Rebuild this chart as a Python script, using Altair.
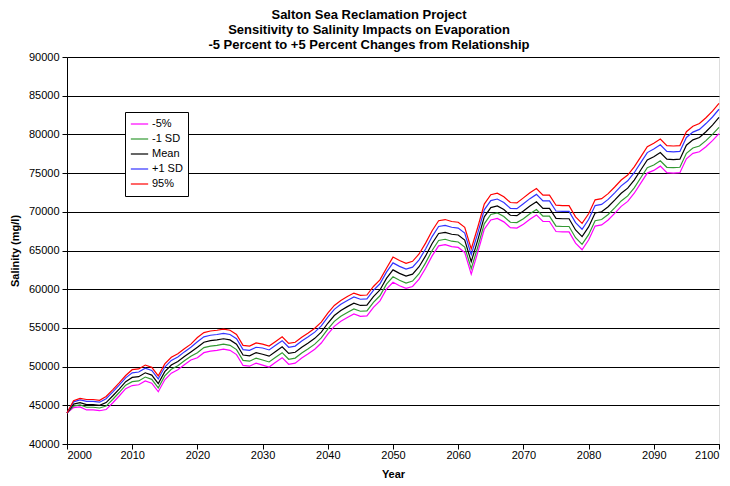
import altair as alt
import pandas as pd

years = list(range(2000, 2101))

mean = [44000, 45150, 45350, 45100, 45100, 45000, 45350, 46200, 47100, 48050,
        48600, 48700, 49200, 48900, 47800, 49350, 50200, 50650, 51300, 51900,
        52500, 53150, 53350, 53450, 53600, 53450, 52900, 51500, 51400, 51800,
        51600, 51350, 51950, 52550, 51700, 51850, 52500, 53050, 53650, 54450,
        55600, 56600, 57250, 57750, 58200, 57900, 57950, 59050, 59900, 61400,
        62500, 62050, 61700, 61950, 62900, 64300, 65900, 67200, 67350, 67100,
        67000, 66350, 63550, 66350, 69350, 70550, 70750, 70300, 69550, 69500,
        70100, 70750, 71300, 70450, 70450, 69150, 69100, 69100, 67650, 66800,
        68050, 69850, 70000, 70650, 71500, 72400, 73050, 74100, 75400, 76700,
        77100, 77650, 76800, 76750, 76800, 78600, 79300, 79600, 80350, 81200,
        82200]

p95 = [44000, 45600, 45900, 45750, 45750, 45650, 46150, 47000, 47900, 48850,
       49600, 49700, 50200, 49900, 48800, 50350, 51200, 51650, 52300, 52900,
       53750, 54400, 54600, 54700, 54850, 54700, 54150, 52750, 52650, 53050,
       52900, 52650, 53250, 53850, 53000, 53150, 53800, 54350, 54950, 55750,
       56900, 57900, 58550, 59050, 59500, 59200, 59250, 60350, 61200, 62700,
       64150, 63700, 63350, 63600, 64550, 65950, 67550, 68850, 69000, 68750,
       68650, 68000, 65200, 68000, 71000, 72200, 72400, 71950, 71200, 71150,
       71800, 72450, 73000, 72150, 72150, 70850, 70800, 70800, 69350, 68500,
       69750, 71550, 71700, 72350, 73200, 74100, 74750, 75800, 77100, 78400,
       78850, 79400, 78550, 78500, 78550, 80350, 81050, 81400, 82150, 83000,
       84000]

plus1sd = [44000, 45450, 45700, 45500, 45500, 45400, 45850, 46700, 47600, 48550,
           49200, 49300, 49800, 49500, 48400, 49950, 50800, 51250, 51900, 52500,
           53200, 53850, 54050, 54150, 54300, 54150, 53600, 52200, 52100, 52500,
           52400, 52150, 52750, 53350, 52500, 52650, 53300, 53850, 54450, 55250,
           56400, 57400, 58050, 58550, 59000, 58700, 58750, 59850, 60700, 62200,
           63400, 62950, 62600, 62850, 63800, 65200, 66800, 68100, 68250, 68000,
           67900, 67250, 64450, 67250, 70250, 71450, 71650, 71200, 70450, 70400,
           71050, 71700, 72250, 71400, 71400, 70100, 70050, 70050, 68600, 67750,
           69000, 70800, 70950, 71600, 72450, 73350, 74000, 75050, 76350, 77650,
           78100, 78650, 77800, 77750, 77800, 79600, 80300, 80650, 81400, 82250,
           83250]

minus1sd = [44000, 44900, 45050, 44750, 44750, 44650, 44900, 45750, 46650, 47600,
            48050, 48150, 48650, 48350, 47250, 48800, 49650, 50100, 50750, 51350,
            51800, 52450, 52650, 52750, 52900, 52750, 52200, 50800, 50700, 51100,
            50850, 50600, 51200, 51800, 50950, 51100, 51750, 52300, 52900, 53700,
            54850, 55850, 56500, 57000, 57450, 57150, 57200, 58300, 59150, 60650,
            61600, 61150, 60800, 61050, 62000, 63400, 65000, 66300, 66450, 66200,
            66100, 65450, 62650, 65450, 68450, 69650, 69850, 69400, 68650, 68600,
            69100, 69750, 70300, 69450, 69450, 68150, 68100, 68100, 66650, 65800,
            67050, 68850, 69000, 69650, 70500, 71400, 72050, 73100, 74400, 75700,
            76050, 76600, 75750, 75700, 75750, 77550, 78250, 78500, 79200, 80000,
            80900]

minus5 = [44000, 44700, 44800, 44400, 44400, 44300, 44450, 45300, 46200, 47150,
          47550, 47650, 48150, 47850, 46750, 48300, 49150, 49600, 50250, 50850,
          51150, 51800, 52000, 52100, 52250, 52100, 51550, 50150, 50050, 50450,
          50200, 49950, 50550, 51150, 50300, 50450, 51100, 51650, 52250, 53050,
          54200, 55200, 55850, 56350, 56800, 56500, 56550, 57650, 58500, 60000,
          60900, 60450, 60100, 60350, 61300, 62700, 64300, 65600, 65750, 65500,
          65400, 64750, 61950, 64750, 67750, 68950, 69150, 68700, 67950, 67900,
          68400, 69050, 69600, 68750, 68750, 67450, 67400, 67400, 65950, 65100,
          66350, 68150, 68300, 68950, 69800, 70700, 71350, 72400, 73700, 75000,
          75350, 75900, 75050, 75000, 75050, 76850, 77550, 77750, 78400, 79200,
          80100]

series_names = ["-5%", "-1 SD", "Mean", "+1 SD", "95%"]
series_colors = ["#FF00FF", "#339933", "#000000", "#3333FF", "#FF0000"]
x_ticks = list(range(2000, 2101, 10))
y_ticks = list(range(40000, 90001, 5000))

rows = []
for name, vals in zip(series_names, [minus5, minus1sd, mean, plus1sd, p95]):
    for yr, v in zip(years, vals):
        rows.append({"Year": yr, "Salinity": v, "Series": name})
df = pd.DataFrame(rows)

FONT = "Liberation Sans"

chart = alt.Chart(
    df,
    title=alt.Title(
        text=["Salton Sea Reclamation Project",
              "Sensitivity to Salinity Impacts on Evaporation",
              "-5 Percent to +5 Percent Changes from Relationship"],
        font=FONT, fontSize=13, fontWeight="bold", color="#000000",
        anchor="middle", dx=-24, offset=-1, lineHeight=15,
    ),
).mark_line(strokeWidth=1.2).encode(
    x=alt.X("Year:Q",
            scale=alt.Scale(domain=[2000, 2100], nice=False, zero=False),
            axis=alt.Axis(values=x_ticks, format="d", title="Year", grid=False,
                          labelFont=FONT, labelFontSize=11, labelColor="#000000",
                          titleFont=FONT, titleFontSize=11, titleFontWeight="bold",
                          titleColor="#000000", titlePadding=8,
                          tickSize=5, tickColor="#000000", domainColor="#000000",
                          labelPadding=0)),
    y=alt.Y("Salinity:Q",
            scale=alt.Scale(domain=[40000, 90000], nice=False, zero=False),
            axis=alt.Axis(values=y_ticks, format="d", title="Salinity (mg/l)",
                          grid=True, gridColor="#000000", gridWidth=1, gridOpacity=1,
                          labelFont=FONT, labelFontSize=11, labelColor="#000000",
                          titleFont=FONT, titleFontSize=11, titleFontWeight="bold",
                          titleColor="#000000", titlePadding=8,
                          tickSize=5, tickColor="#000000", domainColor="#000000",
                          labelPadding=3)),
    color=alt.Color("Series:N",
                    scale=alt.Scale(domain=series_names, range=series_colors),
                    legend=alt.Legend(title=None, orient="none", legendX=58, legendY=55,
                                      symbolType="stroke", symbolSize=300,
                                      symbolStrokeWidth=1.2, clipHeight=14,
                                      labelFont=FONT, labelFontSize=11,
                                      labelColor="#000000",
                                      fillColor="#FFFFFF", strokeColor="#000000",
                                      padding=5, rowPadding=1, labelOffset=3)),
).properties(
    width=652,
    height=387,
    padding={"left": 59, "top": 49, "right": 3, "bottom": 34},
    autosize=alt.AutoSizeParams(type="none"),
).configure_view(
    stroke="#808080", strokeWidth=1
).configure(background="#FFFFFF")

chart.save("out.html", embed_options={"renderer": "svg", "actions": False})
